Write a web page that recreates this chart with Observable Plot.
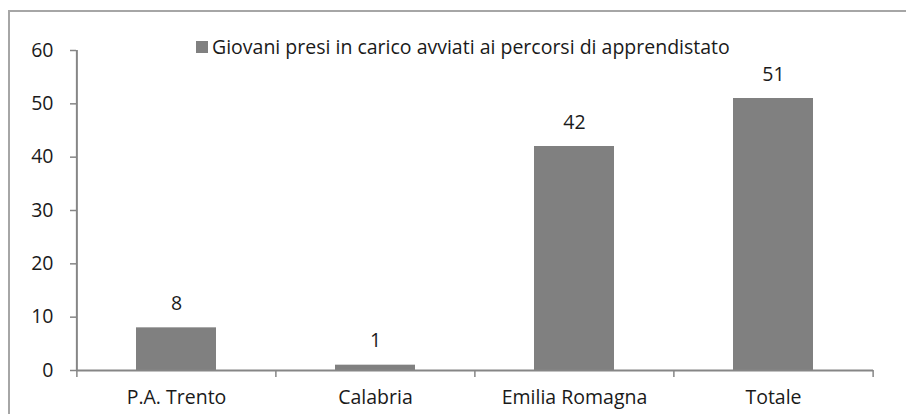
<!DOCTYPE html>
<html>
<head>
<meta charset="utf-8">
<script src="https://cdn.jsdelivr.net/npm/d3@7"></script>
<script src="https://cdn.jsdelivr.net/npm/@observablehq/plot@0.6"></script>
<style>
  body { margin: 0; background: #fff; }
  #wrap { position: relative; width: 906px; height: 414px; overflow: hidden; font-family: "Open Sans", sans-serif; }
  #border { position: absolute; left: 8px; top: 10px; width: 1000px; height: 1000px; border: 2px solid #a6a6a6; }
  #legend { position: absolute; left: 196px; top: 33px; font-size: 19.5px; color: #1a1a1a; display: flex; align-items: center; white-space: nowrap; }
  #legend .sw { width: 12px; height: 12px; background: #808080; margin-right: 4px; }
  #chart { position: absolute; left: 0; top: 0; }
</style>
</head>
<body>
<div id="wrap">
  <div id="border"></div>
  <div id="chart"></div>
  <div id="legend"><span class="sw"></span><span id="legtext"></span></div>
</div>
<script>
const categories = ["P.A. Trento", "Calabria", "Emilia Romagna", "Totale"];
const values = [8, 1, 42, 51];
const seriesName = "Giovani presi in carico avviati ai percorsi di apprendistato";
const yTicks = [0, 10, 20, 30, 40, 50, 60];

document.getElementById("legtext").textContent = seriesName;

const data = categories.map((c, i) => ({category: c, value: values[i]}));

const W = 906, H = 414, mL = 76, mR = 33, mT = 50, mB = 44;
const step = (W - mL - mR) / categories.length;
const axisColor = "#868686";
const fs = 19.5;
const font = "\"Open Sans\", sans-serif";

const chart = Plot.plot({
  width: W, height: H,
  marginLeft: mL, marginRight: mR, marginTop: mT, marginBottom: mB,
  style: {fontFamily: font, fontSize: fs + "px", color: "#1a1a1a", background: "transparent"},
  x: {domain: categories, paddingInner: 0.6, paddingOuter: 0.3, label: null},
  y: {domain: [0, 60], label: null},
  marks: [
    Plot.barY(data, {x: "category", y: "value", fill: "#808080"}),
    Plot.text(data, {x: "category", y: "value", text: d => String(d.value), dy: -24, fill: "#1a1a1a", fontSize: fs}),
    Plot.ruleY([0], {stroke: axisColor, strokeWidth: 2}),
    Plot.ruleX([categories[0]], {dx: -step / 2, stroke: axisColor, strokeWidth: 2}),
    Plot.axisY({ticks: yTicks, tickSize: 6, tickPadding: 17, stroke: axisColor, strokeWidth: 1.5, fill: "#1a1a1a", fontSize: fs, label: null}),
    Plot.axisX({ticks: categories, tickSize: 7, tickFormat: () => "", dx: -step / 2, stroke: axisColor, strokeWidth: 1.5, label: null}),
    Plot.axisX({ticks: [categories[categories.length - 1]], tickSize: 7, tickFormat: () => "", dx: step / 2, stroke: axisColor, strokeWidth: 1.5, label: null}),
    Plot.axisX({ticks: categories, tickSize: 0, tickPadding: 20, fill: "#1a1a1a", fontSize: fs, label: null})
  ]
});
document.getElementById("chart").appendChild(chart);
</script>
</body>
</html>
